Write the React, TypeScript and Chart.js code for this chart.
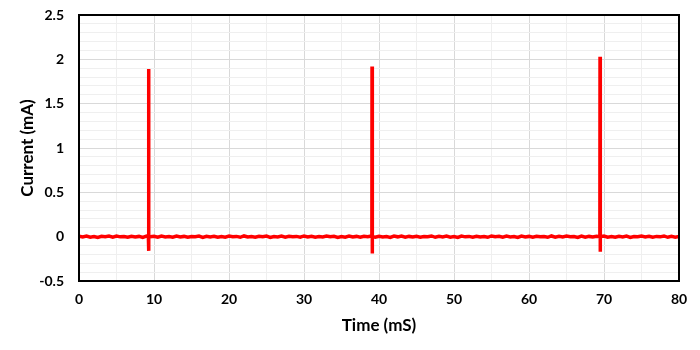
import { useEffect, useRef } from "react";
import { Chart, registerables } from "chart.js";

Chart.register(...registerables);

// Axis ranges
const xMin = 0;
const xMax = 80;
const yMin = -0.5;
const yMax = 2.5;

// Spikes: time (mS), peak (mA), undershoot (mA)
const spikeTimes = [9.27, 39.07, 69.47];
const spikePeaks = [1.89, 1.92, 2.03];
const spikeDips = [-0.16, -0.19, -0.17];

// Baseline samples, one every 0.5 mS from 0 to 80 (mA)
const baselineInterval = 0.5;
const baselineNoise = [
  0.005, -0.003, 0.007, -0.006, 0.002, -0.008, 0.004, -0.001, 0.006, -0.005,
  0.008, -0.002, 0.001, -0.007, 0.005, -0.004, 0.003, -0.008, 0.006, -0.001,
  0.004, -0.006, 0.007, -0.003, 0.002, -0.005, 0.008, -0.004, 0.003, -0.007,
  0.001, -0.002, 0.006, -0.008, 0.005, -0.003, 0.004, -0.006, 0.002, -0.005,
  0.007, -0.001, 0.003, -0.007, 0.008, -0.004, 0.001, -0.006, 0.005, -0.002,
  0.006, -0.008, 0.002, -0.003, 0.007, -0.005, 0.004, -0.001, 0.003, -0.006,
  0.008, -0.004, 0.005, -0.007, 0.001, -0.003, 0.006, -0.002, 0.004, -0.008,
  0.002, -0.005, 0.007, -0.004, 0.003, -0.006, 0.005, -0.001, 0.008, -0.007,
  0.004, -0.003, 0.001, -0.008, 0.006, -0.002, 0.007, -0.005, 0.003, -0.004,
  0.005, -0.006, 0.002, -0.001, 0.008, -0.007, 0.004, -0.003, 0.006, -0.005,
  0.001, -0.008, 0.007, -0.002, 0.003, -0.006, 0.005, -0.004, 0.002, -0.007,
  0.008, -0.001, 0.004, -0.005, 0.006, -0.003, 0.002, -0.008, 0.007, -0.004,
  0.003, -0.006, 0.005, -0.002, 0.001, -0.007, 0.008, -0.005, 0.004, -0.003,
  0.006, -0.001, 0.002, -0.008, 0.007, -0.006, 0.003, -0.004, 0.005, -0.002,
  0.008, -0.005, 0.001, -0.007, 0.004, -0.003, 0.006, -0.008, 0.002, -0.001,
  0.007, -0.004, 0.005, -0.006, 0.003, -0.002, 0.008, -0.007, 0.004, -0.005,
  0.002,
];

const FONT = "Lato, 'Open Sans', sans-serif";

function buildPoints() {
  const pts: { x: number; y: number }[] = baselineNoise.map((v, i) => ({
    x: i * baselineInterval,
    y: v,
  }));
  spikeTimes.forEach((t, i) => {
    pts.push({ x: t - 0.02, y: 0 });
    pts.push({ x: t, y: spikePeaks[i] });
    pts.push({ x: t + 0.02, y: spikeDips[i] });
    pts.push({ x: t + 0.06, y: 0 });
  });
  pts.sort((a, b) => a.x - b.x);
  return pts;
}

const isMult = (v: number, step: number) =>
  Math.abs(v / step - Math.round(v / step)) < 1e-6;

const borderPlugin = {
  id: "plotBorder",
  afterDraw(chart: any) {
    const { ctx, chartArea } = chart;
    ctx.save();
    ctx.strokeStyle = "#000000";
    ctx.lineWidth = 2;
    ctx.strokeRect(
      chartArea.left,
      chartArea.top,
      chartArea.right - chartArea.left,
      chartArea.bottom - chartArea.top
    );
    ctx.restore();
  },
};

export default function App() {
  const ref = useRef<HTMLCanvasElement | null>(null);

  useEffect(() => {
    document.body.style.margin = "0";
    const canvas = ref.current;
    if (!canvas) return;
    const chart = new Chart(canvas, {
      type: "line",
      data: {
        datasets: [
          {
            data: buildPoints(),
            borderColor: "#ff0000",
            borderWidth: 3.5,
            pointRadius: 0,
            tension: 0,
          },
        ],
      },
      options: {
        animation: false,
        responsive: false,
        parsing: false as any,
        layout: { padding: { top: 15, right: 21, left: 0, bottom: 0 } },
        plugins: { legend: { display: false }, tooltip: { enabled: false } },
        scales: {
          x: {
            type: "linear",
            min: xMin,
            max: xMax,
            afterFit: (s: any) => {
              s.height = 69;
              s.paddingLeft = 0;
              s.paddingRight = 0;
            },
            ticks: {
              stepSize: 5,
              autoSkip: false,
              maxRotation: 0,
              padding: 10,
              color: "#000000",
              font: { family: FONT, size: 14, weight: "bold" },
              callback: (v: any) => (isMult(Number(v), 10) ? String(v) : ""),
            },
            grid: {
              drawTicks: false,
              color: (c: any) =>
                isMult(c.tick.value, 10) ? "#d9d9d9" : "#efefef",
              lineWidth: 1,
            },
            border: { display: false },
            title: {
              display: true,
              text: "Time (mS)",
              color: "#000000",
              font: { family: FONT, size: 17, weight: "bold" },
              padding: { top: 0, bottom: 14 },
            },
          },
          y: {
            type: "linear",
            min: yMin,
            max: yMax,
            afterFit: (s: any) => {
              s.width = 79;
              s.paddingTop = 0;
              s.paddingBottom = 0;
            },
            ticks: {
              stepSize: 0.1,
              autoSkip: false,
              padding: 15,
              color: "#000000",
              font: { family: FONT, size: 14, weight: "bold" },
              callback: (v: any) => {
                const n = Number(v);
                if (!isMult(n, 0.5)) return "";
                return String(Math.round(n * 10) / 10);
              },
            },
            grid: {
              drawTicks: false,
              color: (c: any) =>
                isMult(c.tick.value, 0.5) ? "#d9d9d9" : "#efefef",
              lineWidth: 1,
            },
            border: { display: false },
            title: {
              display: true,
              text: "Current (mA)",
              color: "#000000",
              font: { family: FONT, size: 17, weight: "bold" },
              padding: { top: 17, bottom: 0 },
            },
          },
        },
      },
      plugins: [borderPlugin],
    });
    return () => chart.destroy();
  }, []);

  return (
    <div style={{ width: 700, height: 350, background: "#ffffff" }}>
      <canvas ref={ref} width={700} height={350} />
    </div>
  );
}
